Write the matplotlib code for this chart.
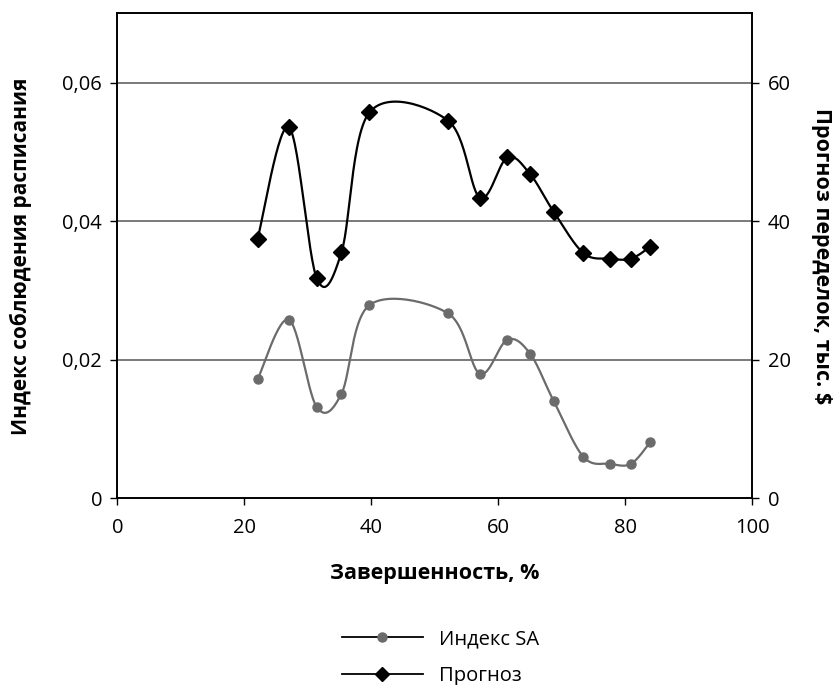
import numpy as np
import matplotlib
matplotlib.use('Agg')
import matplotlib.pyplot as plt
from matplotlib.lines import Line2D

plt.rcParams['font.family'] = ['Open Sans', 'DejaVu Sans']

# completeness, %
completeness = [22.1, 27.0, 31.4, 35.3, 39.7, 52.1, 57.1, 61.4, 65.0, 68.7, 73.4, 77.6, 80.9, 83.9]
# schedule adherence index (left axis)
sa_index = [0.0172, 0.0258, 0.0132, 0.0151, 0.0279, 0.0267, 0.0180, 0.0229, 0.0209,
            0.0141, 0.0060, 0.0050, 0.0050, 0.0081]
# rework forecast, thousand $ (right axis)
forecast = [37.5, 53.6, 31.8, 35.5, 55.7, 54.5, 43.4, 49.2, 46.8, 41.4, 35.4, 34.6, 34.6, 36.3]

left_ticks = [0, 0.02, 0.04, 0.06]
left_labels = ['0', '0,02', '0,04', '0,06']
right_ticks = [0, 20, 40, 60]
x_ticks = [0, 20, 40, 60, 80, 100]

GRAY = '#6b6b6b'


def smooth(xs, ys, n=30):
    # excel-like bezier smoothing through the points
    p = np.column_stack([xs, ys]).astype(float)
    ext = np.vstack([p[0], p, p[-1]])
    t = np.linspace(0, 1, n)[:, None]
    out = []
    for i in range(len(p) - 1):
        p0, p1 = ext[i + 1], ext[i + 2]
        c1 = p0 + (ext[i + 2] - ext[i]) / 6
        c2 = p1 - (ext[i + 3] - ext[i + 1]) / 6
        seg = ((1 - t) ** 3) * p0 + 3 * ((1 - t) ** 2) * t * c1 + 3 * (1 - t) * t ** 2 * c2 + t ** 3 * p1
        out.append(seg if i == 0 else seg[1:])
    out = np.vstack(out)
    return out[:, 0], out[:, 1]


fig = plt.figure(figsize=(8.39, 6.85), dpi=100)
ax = fig.add_axes([0.1398, 0.2723, 0.7569, 0.7083])
ax2 = ax.twinx()

ax.set_xlim(0, 100)
ax.set_ylim(0, 0.07)
ax2.set_ylim(0, 70)

for v in left_ticks[1:]:
    ax.axhline(v, color='#7a7a7a', lw=1.4, zorder=0)

sx, sy = smooth(completeness, sa_index)
ax.plot(sx, sy, color=GRAY, lw=1.6, zorder=2)
ax.plot(completeness, sa_index, 'o', color=GRAY, ms=6.5, zorder=3)

fx, fy = smooth(completeness, forecast)
ax2.plot(fx, fy, color='black', lw=1.6, zorder=2)
ax2.plot(completeness, forecast, 'D', color='black', ms=8.5, zorder=3)

ax.set_xticks(x_ticks)
ax.set_yticks(left_ticks)
ax.set_yticklabels(left_labels)
ax2.set_yticks(right_ticks)

for a in (ax, ax2):
    a.tick_params(direction='out', length=5, width=1, labelsize=14.5, colors='black', pad=6)
    for s in a.spines.values():
        s.set_linewidth(1.2)
        s.set_color('black')
ax.tick_params(axis='x', pad=9)

ax.set_xlabel('Завершенность, %', fontsize=15.5, fontweight='bold', labelpad=18)
ax.set_ylabel('Индекс соблюдения расписания', fontsize=15, fontweight='bold', labelpad=22)
ax2.set_ylabel('Прогноз переделок, тыс. $', fontsize=15.5, fontweight='bold', rotation=270, labelpad=30)

handles = [
    Line2D([], [], color='black', lw=1.3, marker='o', markerfacecolor=GRAY, markeredgecolor=GRAY, ms=6.5),
    Line2D([], [], color='black', lw=1.3, marker='D', markerfacecolor='black', ms=7.5),
]
fig.legend(handles, ['Индекс SA', 'Прогноз'], loc='center', bbox_to_anchor=(0.525, 0.04),
           frameon=False, fontsize=14.5, handlelength=4.0, labelspacing=0.8, handletextpad=0.8)

fig.savefig('out.png', dpi=100)
